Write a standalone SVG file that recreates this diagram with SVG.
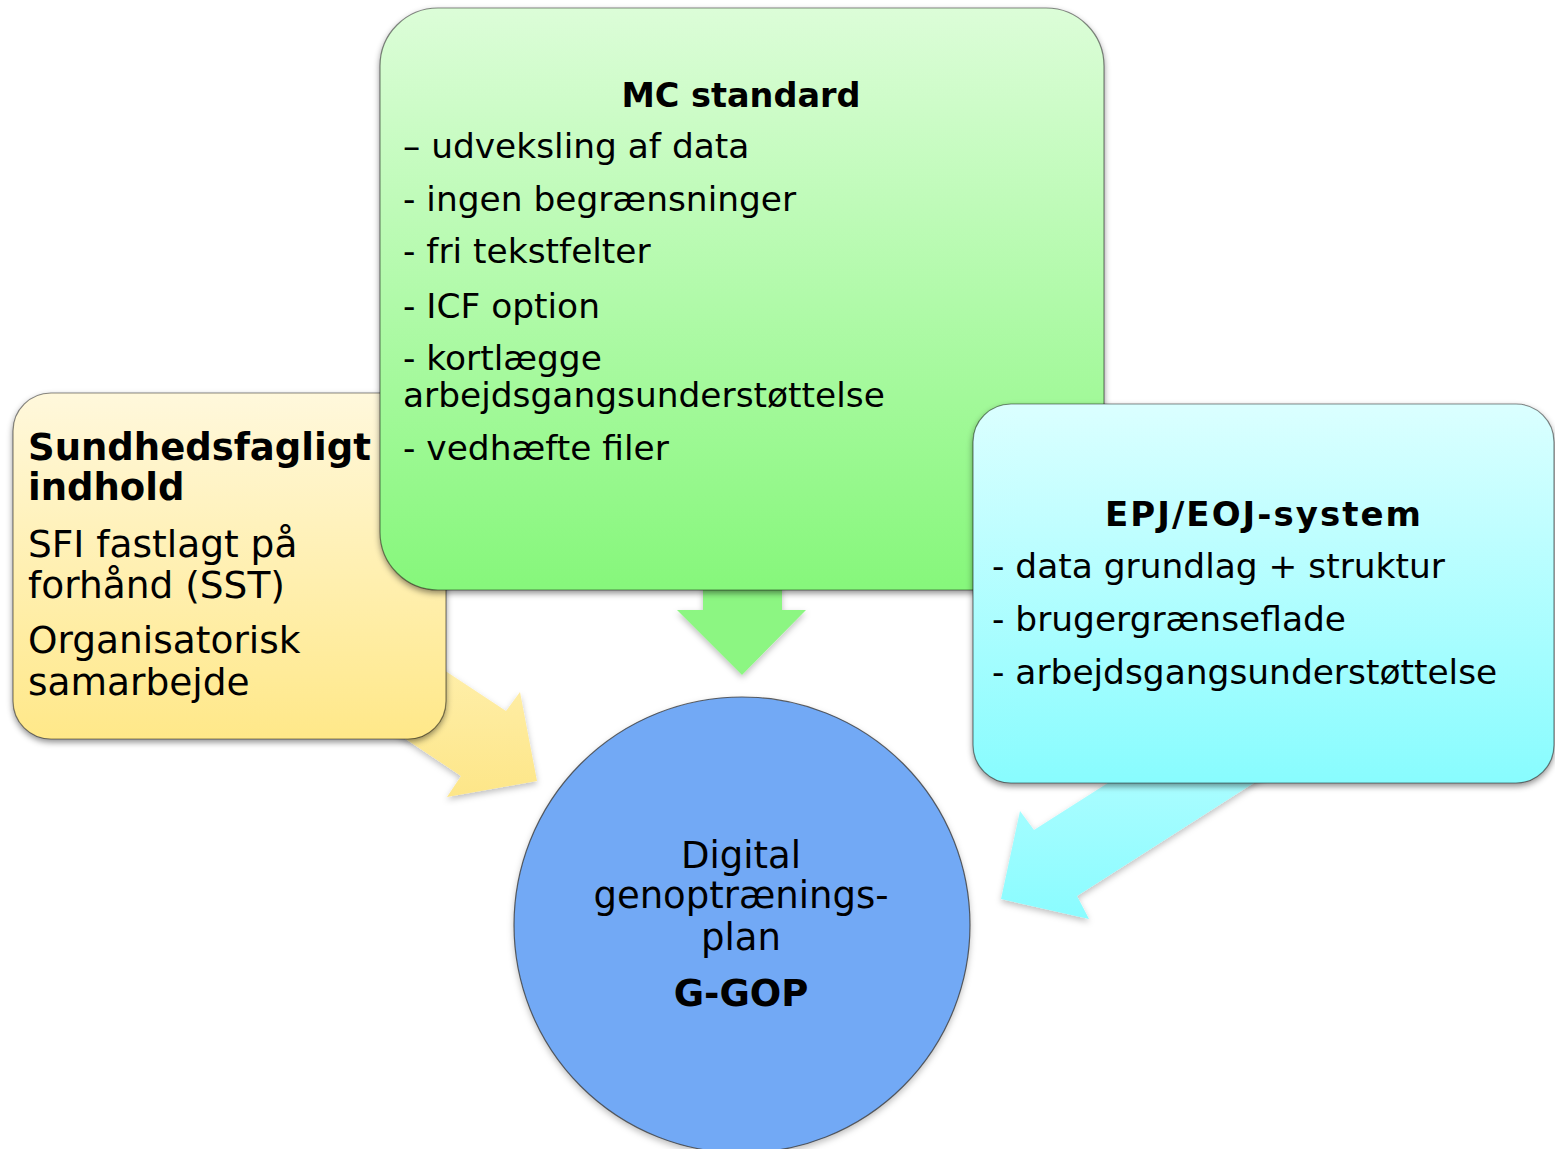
<svg xmlns="http://www.w3.org/2000/svg" width="1555" height="1149" viewBox="0 0 1555 1149">
<defs>
<linearGradient id="gGreen" x1="0" y1="0" x2="0" y2="1"><stop offset="0" stop-color="#dcfdd8"/><stop offset="1" stop-color="#86f77b"/></linearGradient>
<linearGradient id="gYellow" x1="0" y1="0" x2="0" y2="1"><stop offset="0" stop-color="#fff8dc"/><stop offset="1" stop-color="#ffe889"/></linearGradient>
<linearGradient id="gCyan" x1="0" y1="0" x2="0" y2="1"><stop offset="0" stop-color="#dbffff"/><stop offset="1" stop-color="#88fcfe"/></linearGradient>
<linearGradient id="gYArrow" x1="0" y1="0" x2="0" y2="1"><stop offset="0" stop-color="#fff0b0"/><stop offset="1" stop-color="#fde688"/></linearGradient>
<linearGradient id="gCArrow" x1="0" y1="0" x2="0" y2="1"><stop offset="0" stop-color="#aefdff"/><stop offset="1" stop-color="#8afcff"/></linearGradient>
<filter id="sh" x="-10%" y="-10%" width="120%" height="125%">
<feDropShadow dx="0" dy="3" stdDeviation="3" flood-color="#000" flood-opacity="0.45"/>
</filter>
<filter id="shA" x="-10%" y="-10%" width="120%" height="125%">
<feDropShadow dx="0" dy="3" stdDeviation="3" flood-color="#000" flood-opacity="0.25"/>
</filter>
</defs>
<style>
.box{stroke:#000;stroke-opacity:0.45;stroke-width:1.2;filter:url(#sh)}
.t{font-family:"DejaVu Sans",Verdana,sans-serif;fill:#000}
.b{font-weight:bold}
.s34{font-size:34.4px}
.s37{font-size:37.5px}
.s37b{font-size:37px}
</style>
<rect width="1555" height="1149" fill="#ffffff"/>
<g id="connectors">
<polygon points="400,641 506,711 520,692 537,781 447,797 461,776 380,722" fill="url(#gYArrow)" filter="url(#shA)"/>
<polygon points="703,560 782,560 782,610 806,610 742,675 677,610 703,610" fill="#8cf682" filter="url(#shA)"/>
<polygon points="1144,760 1034,830 1020,811 1001,899 1089,919 1077,896 1290,760" fill="url(#gCArrow)" filter="url(#shA)"/>
</g>
<g id="node-sundhed">
<rect class="box" x="13" y="393" width="433" height="346" rx="38" ry="38" fill="url(#gYellow)"/>
<text class="t b s37b" x="28" y="460">Sundhedsfagligt</text>
<text class="t b s37b" x="28" y="500">indhold</text>
<text class="t s37" x="28" y="557">SFI fastlagt på</text>
<text class="t s37" x="28" y="598">forhånd (SST)</text>
<text class="t s37" x="28" y="653">Organisatorisk</text>
<text class="t s37" x="28" y="695">samarbejde</text>
</g>
<g id="node-mc">
<rect class="box" x="380" y="8" width="724" height="582" rx="58" ry="58" fill="url(#gGreen)"/>
<text class="t b" x="741" y="107" font-size="33.5" text-anchor="middle">MC standard</text>
<text class="t s34" x="403" y="158">– udveksling af data</text>
<text class="t s34" x="403" y="211">- ingen begrænsninger</text>
<text class="t s34" x="403" y="263">- fri tekstfelter</text>
<text class="t s34" x="403" y="318">- ICF option</text>
<text class="t s34" x="403" y="370">- kortlægge</text>
<text class="t s34" x="403" y="407">arbejdsgangsunderstøttelse</text>
<text class="t s34" x="403" y="460">- vedhæfte filer</text>
</g>
<g id="node-epj">
<rect class="box" x="973" y="404" width="581" height="379" rx="38" ry="38" fill="url(#gCyan)"/>
<text class="t b" x="1263" y="526" font-size="34" text-anchor="middle" textLength="316" lengthAdjust="spacing">EPJ/EOJ-system</text>
<text class="t s34" x="992" y="578">- data grundlag + struktur</text>
<text class="t s34" x="992" y="631">- brugergrænseflade</text>
<text class="t s34" x="992" y="684">- arbejdsgangsunderstøttelse</text>
</g>
<g id="node-ggop">
<circle cx="742" cy="925" r="228" fill="#72a9f5" stroke="#3c3c3c" stroke-opacity="0.8" stroke-width="1.2" filter="url(#shA)"/>
<text class="t s37b" x="741" y="868" text-anchor="middle">Digital</text>
<text class="t s37b" x="741" y="908" text-anchor="middle">genoptrænings-</text>
<text class="t s37b" x="741" y="950" text-anchor="middle">plan</text>
<text class="t b s37b" x="741" y="1006" text-anchor="middle">G-GOP</text>
</g>
</svg>
